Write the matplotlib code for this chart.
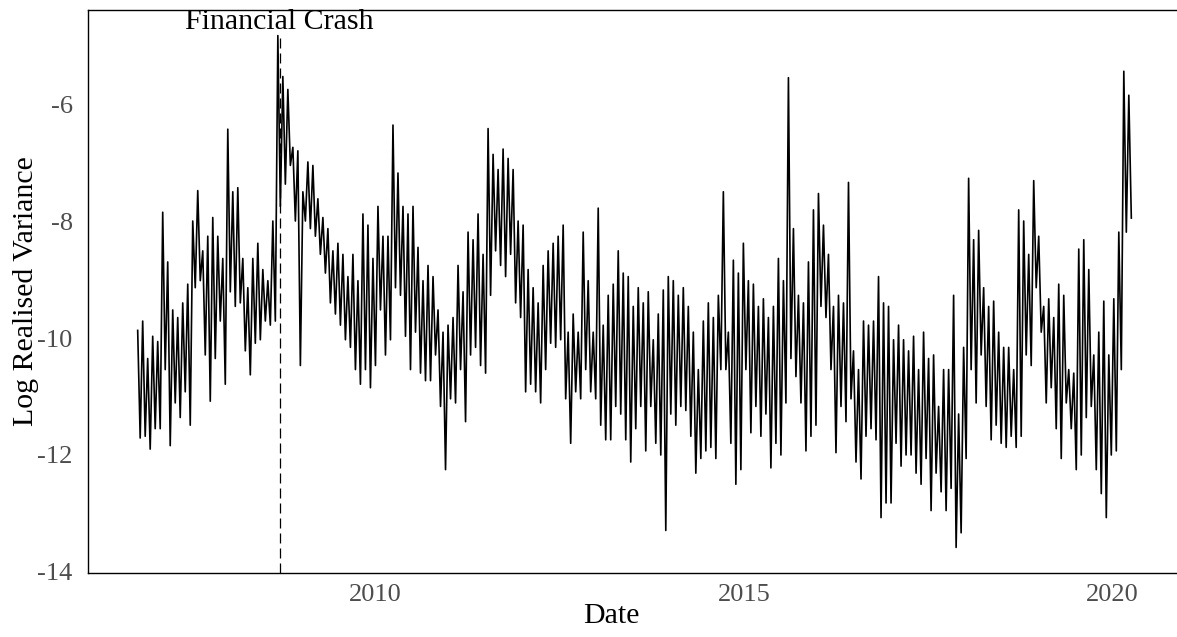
import matplotlib
matplotlib.use("Agg")
import matplotlib.pyplot as plt
import matplotlib.dates as mdates
import matplotlib.transforms as mtransforms
import pandas as pd

plt.rcParams["font.family"] = ["Liberation Serif", "DejaVu Serif"]
plt.rcParams["axes.unicode_minus"] = False

# Log realised variance, read off the picture as alternating
# high / low swings (about one pair every 5 px of the original plot)
lrv_2006_2008 = [
    -9.87, -11.71, -9.71, -11.68, -10.35, -11.90, -9.97, -11.55, -10.06, -11.55,
    -7.85, -10.54, -8.70, -11.84, -9.52, -11.11, -9.65, -11.36, -9.40, -10.92,
    -9.08, -11.49, -8.00, -9.14, -7.48, -9.02, -8.51, -10.29, -8.26, -11.08,
    -7.94, -10.35, -8.26, -9.71, -8.64, -10.79, -6.43, -9.21, -7.50, -9.46,
]
lrv_2008_2010 = [
    -7.43, -9.40, -8.64, -10.22, -9.14, -10.63, -8.64, -10.09, -8.38, -10.03,
    -8.83, -9.71, -9.02, -9.78, -8.00, -9.71, -4.83, -7.75, -5.53, -7.37,
    -5.75, -7.05, -6.74, -8.00, -6.80, -10.47, -7.50, -8.00, -6.99, -8.13,
    -7.05, -8.26, -7.62, -8.57, -7.94, -8.89, -8.13, -9.40, -8.51, -9.59,
    -8.38, -9.78, -8.57, -10.03, -8.95, -10.16, -8.57, -10.54, -9.02, -10.79,
    -7.88, -10.54,
]
lrv_2010_2011 = [
    -8.07, -10.85, -8.64, -10.47, -7.75, -9.52, -8.26, -10.29, -8.26, -10.03,
    -6.36, -9.14, -7.18, -9.27, -7.75, -9.97, -7.88, -10.54, -7.75, -9.90,
    -8.45, -10.60, -9.02, -10.73, -8.76, -10.73, -8.95, -10.29, -9.52, -11.17,
    -9.90, -12.25, -9.78, -11.04, -9.65, -11.11, -8.76, -10.54, -9.21, -11.43,
    -8.19, -10.29, -8.32, -10.16, -7.88, -10.47, -8.57, -10.60, -6.42, -9.27,
    -6.86, -8.51,
]
lrv_2011_2013 = [
    -7.12, -8.76, -6.77, -8.95, -6.93, -8.57, -7.12, -9.40, -8.00, -9.65,
    -8.07, -10.92, -8.83, -10.79, -9.14, -10.92, -9.40, -11.11, -8.76, -10.54,
    -8.51, -10.09, -8.38, -10.16, -8.26, -10.03, -8.07, -11.04, -9.90, -11.80,
    -9.59, -10.92, -9.90, -11.04, -8.19, -10.54, -9.02, -10.92, -9.90, -11.04,
    -7.78, -11.49, -9.78, -11.74, -9.27, -11.74, -9.08, -11.17, -8.51, -11.30,
    -8.89, -11.74,
]
lrv_2013_2015 = [
    -8.95, -12.12, -9.46, -11.55, -9.14, -11.17, -9.40, -11.93, -9.21, -11.17,
    -10.03, -11.80, -9.59, -12.00, -9.18, -13.29, -8.95, -11.30, -9.02, -11.49,
    -9.27, -11.17, -9.14, -11.24, -9.46, -11.68, -9.90, -12.31, -10.54, -12.06,
    -9.71, -11.93, -9.40, -11.87, -9.65, -12.06, -9.27, -10.54, -7.50, -10.54,
    -9.90, -11.80, -8.67, -12.50, -8.89, -12.25, -8.38, -10.54, -9.02, -11.62,
    -9.08, -11.17,
]
lrv_2015_2016 = [
    -9.46, -11.68, -9.33, -11.30, -9.65, -12.22, -9.46, -11.80, -8.64, -12.00,
    -9.02, -11.11, -5.55, -10.35, -8.13, -10.66, -9.27, -11.11, -9.40, -11.93,
    -8.70, -11.68, -7.81, -11.49, -7.53, -9.46, -8.07, -9.65, -8.57, -10.54,
    -9.46, -11.96, -9.27, -11.17, -9.40, -11.43, -7.34, -11.04, -10.22, -12.12,
    -10.54, -12.41, -9.71, -11.68, -9.78, -11.55, -9.71, -11.74, -8.95, -13.07,
    -9.40, -12.82,
]
lrv_2016_2018 = [
    -9.46, -12.82, -10.03, -11.80, -9.78, -12.19, -10.03, -12.00, -10.22, -12.00,
    -9.97, -12.31, -10.54, -12.50, -9.90, -12.06, -10.35, -12.95, -10.29, -12.31,
    -11.17, -12.63, -10.54, -12.95, -10.54, -12.57, -9.27, -13.58, -11.30, -13.33,
    -10.16, -12.06, -7.27, -10.54, -8.32, -11.11, -8.16, -10.29, -9.14, -11.17,
    -9.46, -11.74, -9.37, -11.49, -9.90, -11.80, -10.16, -11.87, -10.16, -11.68,
    -10.54, -11.87,
]
lrv_2018_2020 = [
    -7.81, -11.68, -8.00, -10.29, -8.57, -10.47, -7.31, -9.14, -8.26, -9.90,
    -9.46, -11.11, -9.33, -10.85, -9.65, -11.55, -9.08, -12.06, -9.27, -11.11,
    -10.54, -11.55, -10.60, -12.25, -8.48, -12.00, -8.32, -11.36, -8.83, -11.17,
    -10.29, -12.25, -9.90, -12.66, -9.37, -13.07, -10.29, -12.00, -9.33, -11.93,
    -8.19, -10.54, -5.44, -8.19, -5.85, -7.95,
]

start_date = "2006-10-13"
end_date = "2020-04-03"
crash_date = pd.Timestamp("2008-09-15")

series = (lrv_2006_2008 + lrv_2008_2010 + lrv_2010_2011 + lrv_2011_2013
          + lrv_2013_2015 + lrv_2015_2016 + lrv_2016_2018 + lrv_2018_2020)
dates = pd.date_range(start_date, end_date, periods=len(series))

fig = plt.figure(figsize=(11.77, 6.37), dpi=100)
ax = fig.add_axes([88 / 1177, 64 / 637, 1093 / 1177, 563 / 637])

ax.plot(dates, series, color="black", linewidth=1.2)
ax.margins(x=0.05, y=0.05)

# dashed marker for the crash
ax.axvline(crash_date, ymin=0, ymax=0.959, color="black", linewidth=0.9,
           linestyle=(0, (8, 4)))
trans = mtransforms.blended_transform_factory(ax.transData, ax.transAxes)
ax.text(crash_date, 0.967, "Financial Crash", transform=trans,
        ha="center", va="baseline", fontsize=21.5, color="black", clip_on=False)

ax.xaxis.set_major_locator(mdates.YearLocator(5))
ax.xaxis.set_major_formatter(mdates.DateFormatter("%Y"))
ax.set_yticks([-14, -12, -10, -8, -6])
ax.set_yticklabels(["-14", "-12", "-10", "-8", "-6"])

ax.tick_params(length=0, labelsize=19, labelcolor="#4D4D4D")
ax.tick_params(axis="y", pad=11)
ax.tick_params(axis="x", pad=8)

for side in ["left", "bottom", "top"]:
    ax.spines[side].set_color("black")
    ax.spines[side].set_linewidth(1.0)
ax.spines["right"].set_visible(False)

ax.set_xlabel("Date", fontsize=21.5)
ax.xaxis.set_label_coords(0.479, -0.053)
ax.set_ylabel("Log Realised Variance", fontsize=21.5, labelpad=-1)

fig.savefig("out.png", dpi=100)
